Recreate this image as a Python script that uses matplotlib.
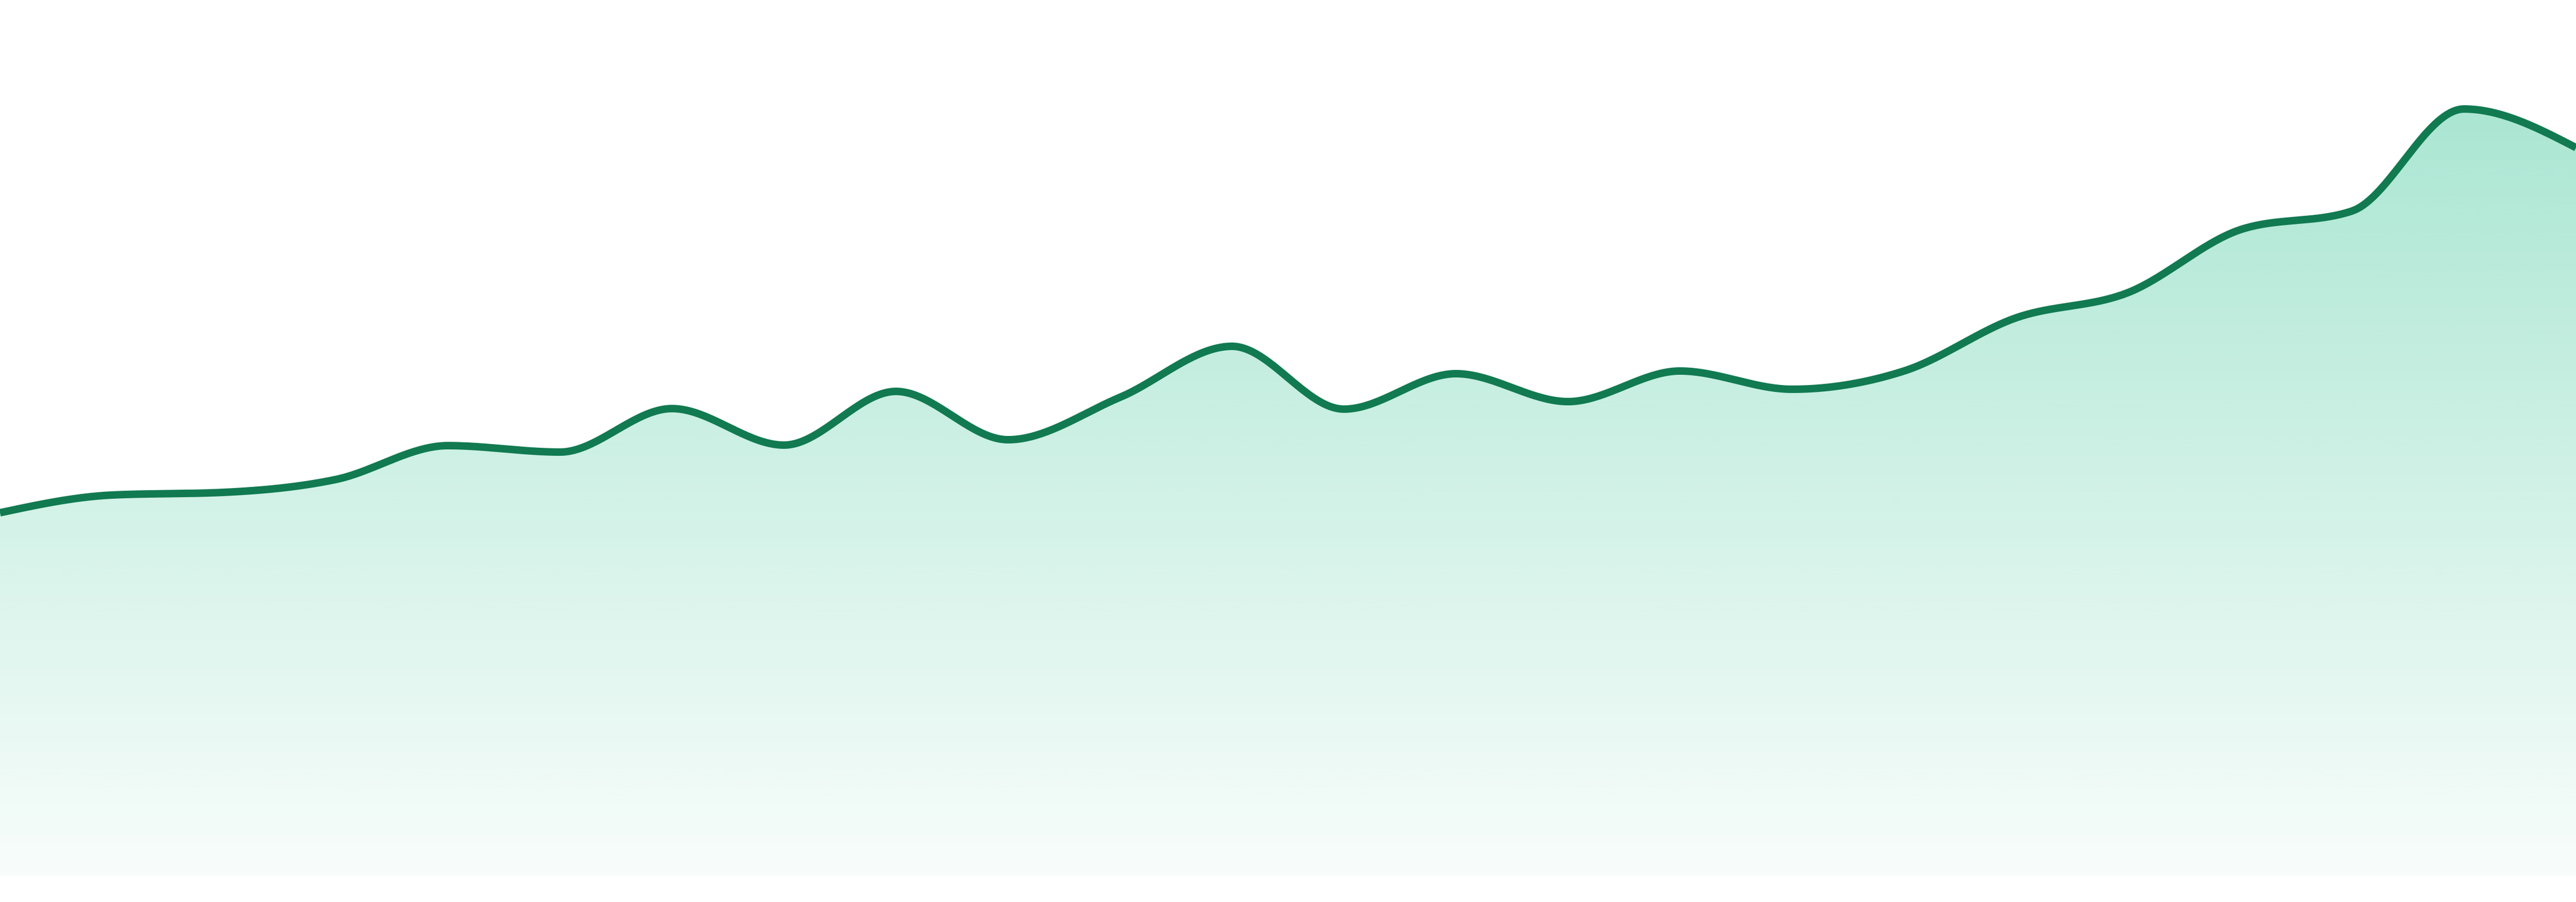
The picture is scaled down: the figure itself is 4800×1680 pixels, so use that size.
import numpy as np
import matplotlib
matplotlib.use("Agg")
import matplotlib.pyplot as plt

# series values (24 evenly spaced samples)
positions = np.arange(24)
values = [67.7, 71.0, 71.5, 73.9, 80.2, 79.0, 87.1, 80.3, 90.3, 81.3, 89.2, 98.7,
          87.0, 93.6, 88.4, 94.1, 90.7, 94.1, 104.0, 108.7, 120.4, 123.9, 142.9, 135.7]

LINE_COLOR = "#117a51"
FILL_COLOR = "#10b981"


def monotone_curve(x, y, steps=40):
    """Monotone cubic interpolation (same slopes as d3.curveMonotoneX)."""
    x = np.asarray(x, dtype=float)
    y = np.asarray(y, dtype=float)
    n = len(x)
    h = np.diff(x)
    s = np.diff(y) / h
    t = np.zeros(n)
    for i in range(1, n - 1):
        p = (s[i - 1] * h[i] + s[i] * h[i - 1]) / (h[i - 1] + h[i])
        t[i] = (np.sign(s[i - 1]) + np.sign(s[i])) * min(abs(s[i - 1]), abs(s[i]), 0.5 * abs(p))
    t[0] = (3 * s[0] - t[1]) / 2
    t[-1] = (3 * s[-1] - t[-2]) / 2

    xs, ys = [], []
    for i in range(n - 1):
        u = np.linspace(0, 1, steps, endpoint=(i == n - 2))
        h00 = 2 * u**3 - 3 * u**2 + 1
        h10 = u**3 - 2 * u**2 + u
        h01 = -2 * u**3 + 3 * u**2
        h11 = u**3 - u**2
        xs.append(x[i] + u * h[i])
        ys.append(h00 * y[i] + h10 * h[i] * t[i] + h01 * y[i + 1] + h11 * h[i] * t[i + 1])
    return np.concatenate(xs), np.concatenate(ys)


fig = plt.figure(figsize=(48, 16.8), dpi=100)
ax = fig.add_axes([0, 0, 1, 1])
ax.set_xlim(0, 23)
ax.set_ylim(-4.8, 163.2)
ax.axis("off")

cx, cy = monotone_curve(positions, values)

# gradient fill under the curve, clipped to the area shape
area = ax.fill_between(cx, 0, cy, facecolor="none", edgecolor="none")
alpha = np.linspace(0.40, 0.03, 256).reshape(-1, 1)
rgba = np.zeros((256, 1, 4))
rgba[..., :3] = matplotlib.colors.to_rgb(FILL_COLOR)
rgba[..., 3] = alpha[:, 0:1]
img = ax.imshow(rgba, extent=[0, 23, 0, 163.2], aspect="auto", origin="upper",
                interpolation="bicubic", zorder=1)
img.set_clip_path(area.get_paths()[0], transform=ax.transData)

ax.plot(cx, cy, color=LINE_COLOR, linewidth=14 * 72 / 100, solid_capstyle="butt",
        solid_joinstyle="round", zorder=2)

fig.savefig("out.png", dpi=100, facecolor="white")
